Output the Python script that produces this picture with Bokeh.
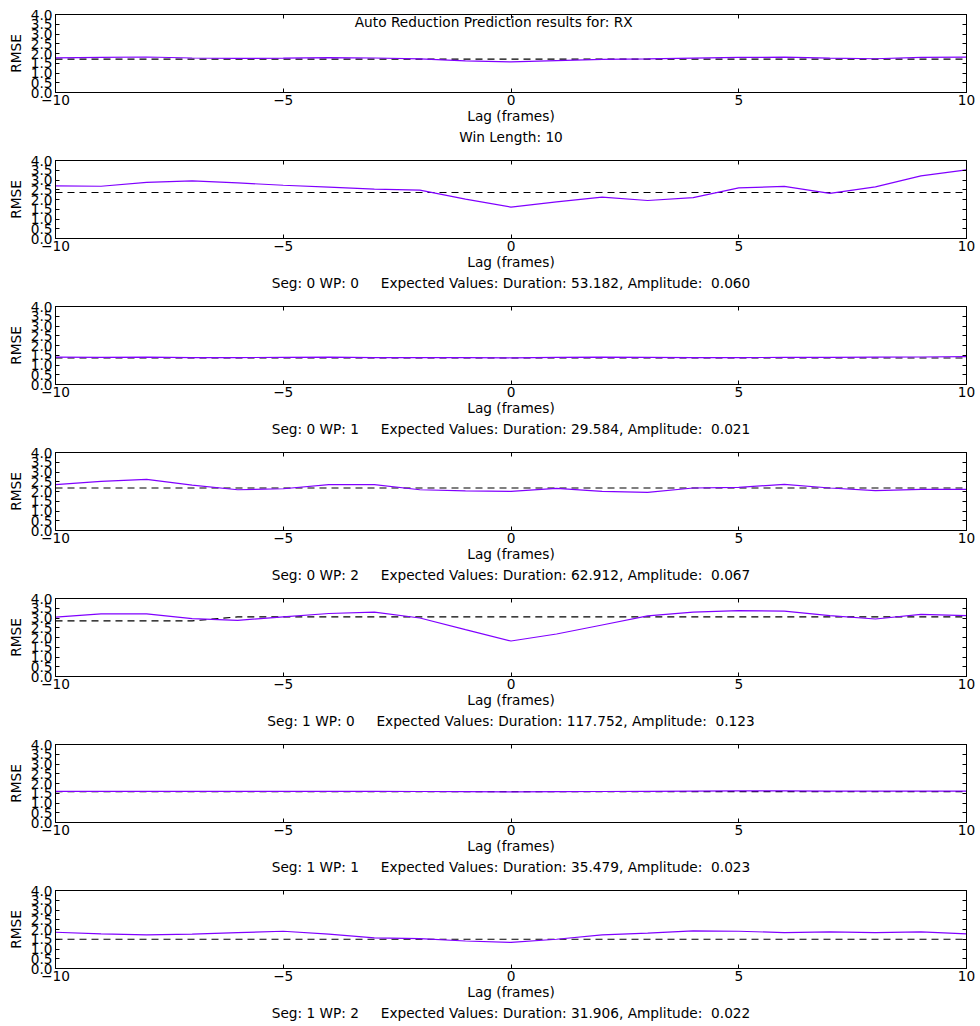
from bokeh.plotting import figure
from bokeh.layouts import column
from bokeh.models import LinearAxis, FixedTicker, PrintfTickFormatter, Title, Label, Range1d
from bokeh.embed import file_html
from bokeh.resources import INLINE

FONT = "DejaVu Sans"
FS = "13.7px"
LINE_COLOR = "#8000ff"

# Lag axis shared by all panels
lags = list(range(-10, 11))

# RMSE per lag for each panel
rmse_win = [1.78, 1.80, 1.82, 1.77, 1.75, 1.76, 1.79, 1.77, 1.72, 1.62, 1.57,
            1.63, 1.70, 1.72, 1.76, 1.80, 1.81, 1.76, 1.73, 1.80, 1.81]
rmse_s0_wp0 = [2.70, 2.68, 2.88, 2.96, 2.85, 2.73, 2.63, 2.53, 2.48, 2.02, 1.61,
               1.88, 2.12, 1.95, 2.10, 2.60, 2.67, 2.31, 2.65, 3.21, 3.52]
rmse_s0_wp1 = [1.40, 1.39, 1.40, 1.38, 1.38, 1.39, 1.40, 1.38, 1.38, 1.38, 1.37,
               1.39, 1.40, 1.39, 1.38, 1.38, 1.39, 1.39, 1.40, 1.41, 1.43]
rmse_s0_wp2 = [2.35, 2.52, 2.62, 2.33, 2.09, 2.14, 2.35, 2.35, 2.09, 2.03, 2.01,
               2.16, 2.01, 1.96, 2.18, 2.21, 2.37, 2.18, 2.04, 2.11, 2.11]
rmse_s1_wp0 = [3.04, 3.21, 3.21, 2.97, 2.88, 3.06, 3.23, 3.30, 3.00, 2.40, 1.82,
               2.18, 2.64, 3.11, 3.30, 3.38, 3.35, 3.12, 2.95, 3.19, 3.12]
rmse_s1_wp1 = [1.60, 1.60, 1.60, 1.60, 1.60, 1.60, 1.60, 1.60, 1.59, 1.58, 1.57,
               1.58, 1.59, 1.60, 1.61, 1.62, 1.62, 1.61, 1.61, 1.61, 1.61]
rmse_s1_wp2 = [1.86, 1.78, 1.72, 1.76, 1.84, 1.91, 1.76, 1.57, 1.53, 1.41, 1.34,
               1.50, 1.72, 1.81, 1.93, 1.91, 1.84, 1.88, 1.84, 1.88, 1.78]

# Reference (expected) RMSE levels, as breakpoints along the lag axis
ref_x_win, ref_y_win = [-10, 10], [1.71, 1.71]
ref_x_s0_wp0, ref_y_s0_wp0 = [-10, 10], [2.36, 2.36]
ref_x_s0_wp1, ref_y_s0_wp1 = [-10, 10], [1.36, 1.36]
ref_x_s0_wp2, ref_y_s0_wp2 = [-10, 10], [2.18, 2.18]
ref_x_s1_wp0, ref_y_s1_wp0 = [-10, -7, -6, 10], [2.85, 2.85, 3.06, 3.06]
ref_x_s1_wp1, ref_y_s1_wp1 = [-10, 10], [1.58, 1.58]
ref_x_s1_wp2, ref_y_s1_wp2 = [-10, 10], [1.50, 1.50]

SP = "\u00a0"
captions = [
    "Win Length: 10",
    f"Seg: 0 WP: 0{SP*5}Expected Values: Duration: 53.182, Amplitude:{SP*2}0.060",
    f"Seg: 0 WP: 1{SP*5}Expected Values: Duration: 29.584, Amplitude:{SP*2}0.021",
    f"Seg: 0 WP: 2{SP*5}Expected Values: Duration: 62.912, Amplitude:{SP*2}0.067",
    f"Seg: 1 WP: 0{SP*5}Expected Values: Duration: 117.752, Amplitude:{SP*2}0.123",
    f"Seg: 1 WP: 1{SP*5}Expected Values: Duration: 35.479, Amplitude:{SP*2}0.023",
    f"Seg: 1 WP: 2{SP*5}Expected Values: Duration: 31.906, Amplitude:{SP*2}0.022",
]

panels = [
    (rmse_win, ref_x_win, ref_y_win),
    (rmse_s0_wp0, ref_x_s0_wp0, ref_y_s0_wp0),
    (rmse_s0_wp1, ref_x_s0_wp1, ref_y_s0_wp1),
    (rmse_s0_wp2, ref_x_s0_wp2, ref_y_s0_wp2),
    (rmse_s1_wp0, ref_x_s1_wp0, ref_y_s1_wp0),
    (rmse_s1_wp1, ref_x_s1_wp1, ref_y_s1_wp1),
    (rmse_s1_wp2, ref_x_s1_wp2, ref_y_s1_wp2),
]

x_ticks = [-10, -5, 0, 5, 10]
y_ticks = [0.0, 0.5, 1.0, 1.5, 2.0, 2.5, 3.0, 3.5, 4.0]
x_labels = {-10: "\u221210", -5: "\u22125", 0: "0", 5: "5", 10: "10"}


def style_axis(ax, ticks, show_labels=True):
    ax.ticker = FixedTicker(ticks=ticks)
    ax.major_tick_in = 4
    ax.major_tick_out = 0
    ax.minor_tick_line_color = None
    ax.axis_line_color = "black"
    ax.major_tick_line_color = "black"
    ax.major_label_text_font = FONT
    ax.axis_label_text_font = FONT
    ax.axis_label_text_font_style = "normal"
    ax.axis_label_text_font_size = FS
    ax.axis_label_text_color = "black"
    if show_labels:
        ax.major_label_text_color = "black"
        ax.major_label_text_font_size = FS
        ax.major_label_standoff = 2
    else:
        # tick marks only on the mirrored sides
        ax.major_label_text_color = None
        ax.major_label_text_font_size = "0px"
        ax.major_label_standoff = 0


figs = []
for i, (rmse, rx, ry) in enumerate(panels):
    p = figure(width=980, height=146, output_backend="svg", toolbar_location=None,
               x_range=Range1d(-10, 10), y_range=Range1d(0, 4),
               min_border_top=14, min_border_bottom=54,
               min_border_left=55, min_border_right=14,
               x_axis_label="Lag (frames)", y_axis_label="RMSE")
    p.xgrid.visible = False
    p.ygrid.visible = False
    p.outline_line_color = "black"
    p.outline_line_width = 1
    p.background_fill_color = "white"
    p.border_fill_color = "white"

    style_axis(p.xaxis[0], x_ticks)
    p.xaxis[0].major_label_overrides = x_labels
    p.xaxis[0].axis_label_standoff = 0
    style_axis(p.yaxis[0], y_ticks)
    p.yaxis[0].major_label_standoff = 3
    p.yaxis[0].formatter = PrintfTickFormatter(format="%.1f")
    p.yaxis[0].axis_label_standoff = 4

    top = LinearAxis()
    style_axis(top, x_ticks, show_labels=False)
    p.add_layout(top, "above")
    right = LinearAxis()
    style_axis(right, y_ticks, show_labels=False)
    p.add_layout(right, "right")

    p.line(rx, ry, line_color="black", line_width=1.2, line_dash="7 5")
    p.line(lags, rmse, line_color=LINE_COLOR, line_width=1.2)

    cap = Title(text=captions[i], align="center", text_font=FONT,
                text_font_size=FS, text_font_style="normal",
                text_color="black", standoff=0)
    p.add_layout(cap, "below")

    if i == 0:
        p.add_layout(Label(x=-0.38, y=3.64, text="Auto Reduction Prediction results for: RX",
                           text_font=FONT, text_font_size=FS, text_color="black",
                           text_align="center", text_baseline="middle"))
    figs.append(p)

layout = column(*figs, spacing=0)
open("out.html", "w").write(file_html(layout, INLINE))
